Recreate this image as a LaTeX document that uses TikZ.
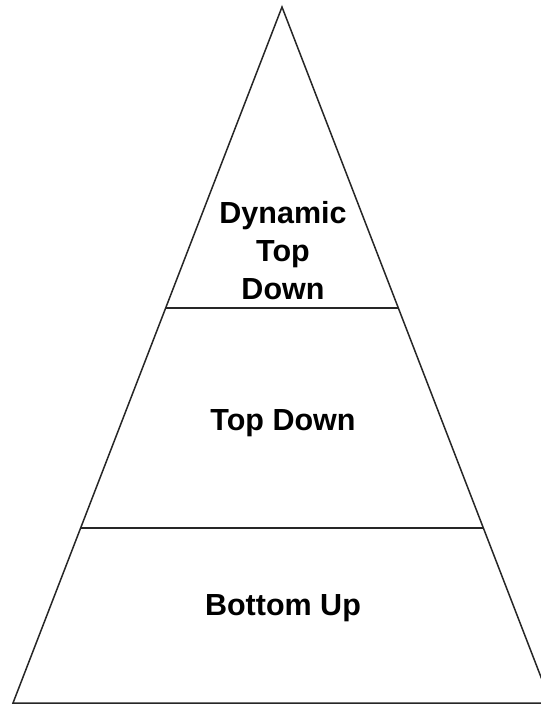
\documentclass[tikz,border=0pt]{standalone}
\usepackage{fontspec}
\setmainfont{Liberation Sans}
\begin{document}
\begin{tikzpicture}[x=1pt,y=-1pt,
  edge/.style={line width=1.5pt, draw=black!85},
  label/.style={font=\bfseries\fontsize{30.5}{38}\selectfont, align=center, inner sep=0pt}]
\useasboundingbox (0,0) rectangle (541,705);
\clip (0,0) rectangle (541,705);
\coordinate (apex) at (282,7);
\coordinate (bl) at (13,703);
\coordinate (br) at (551,703);
\coordinate (l1) at (165.7,308);
\coordinate (r1) at (398.3,308);
\coordinate (l2) at (80.6,528);
\coordinate (r2) at (483.4,528);
\draw[edge, line join=miter] (bl) -- (apex) -- (br) -- cycle;
\draw[edge] (l1) -- (r1);
\draw[edge] (l2) -- (r2);
\node[label, anchor=base] (dtd) at (283,299) {Dynamic\\Top\\Down};
\node[label, anchor=base] (td) at (283,430) {Top Down};
\node[label, anchor=base] (bu) at (283,615) {Bottom Up};
\end{tikzpicture}
\end{document}
